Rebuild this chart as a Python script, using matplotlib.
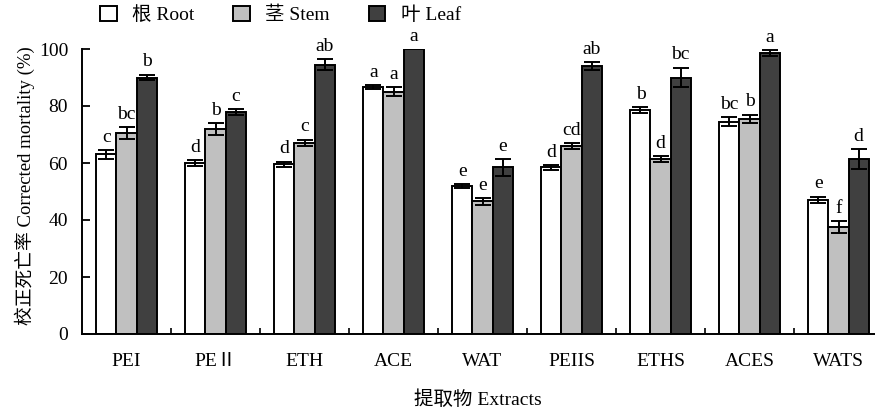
import numpy as np
import matplotlib
matplotlib.use("Agg")
from matplotlib import pyplot as plt
from matplotlib.ticker import FixedLocator

plt.rcParams['font.family'] = ['Liberation Serif', 'Noto Sans CJK SC']

extracts = ["PEI", "PE\u2161", "ETH", "ACE", "WAT", "PEIIS", "ETHS", "ACES", "WATS"]
root = [63, 60, 59.5, 86.5, 52, 58.5, 78.5, 74.5, 47]
stem = [70.5, 72, 67, 85, 46.5, 66, 61.5, 75.5, 37.5]
leaf = [90, 78, 94.5, 100, 58.5, 94, 90, 98.5, 61.5]
root_err = [1.5, 1, 1, 0.7, 0.7, 0.8, 1, 1.5, 1.2]
stem_err = [2, 2, 1.2, 1.5, 1.2, 1, 1, 1.5, 2]
leaf_err = [1, 1, 2, 0, 3, 1.5, 3.5, 1, 3.5]
root_lab = ["c", "d", "d", "a", "e", "d", "b", "bc", "e"]
stem_lab = ["bc", "b", "c", "a", "e", "cd", "d", "b", "f"]
leaf_lab = ["b", "c", "ab", "a", "e", "ab", "bc", "a", "d"]

fig = plt.figure(figsize=(8.75, 4.13), dpi=100)
ax = fig.add_axes([82/875, 1 - 334/413, 801/875, 285/413])

x = np.arange(len(extracts))
w = 0.225
series = [
    (root, root_err, root_lab, "white", "根 Root"),
    (stem, stem_err, stem_lab, "#c0c0c0", "茎 Stem"),
    (leaf, leaf_err, leaf_lab, "#404040", "叶 Leaf"),
]
for i, (vals, errs, labs, col, name) in enumerate(series):
    pos = x + (i - 1) * w
    ax.bar(pos, vals, w, color=col, edgecolor="black", linewidth=1.4, label=name, zorder=2)
    ax.errorbar(pos, vals, yerr=errs, fmt="none", ecolor="black", elinewidth=1.4,
                capsize=5.5, capthick=1.4, zorder=3)
    for p, v, e, t in zip(pos, vals, errs, labs):
        ax.annotate(t, (p, v + e), xytext=(0, 3), textcoords="offset points",
                    ha="center", va="bottom", fontsize=14, annotation_clip=False)

ax.set_xlim(-0.5, len(extracts) - 0.5)
ax.set_ylim(0, 100)
ax.set_yticks(range(0, 101, 20))
ax.set_xticks(x)
ax.set_xticklabels(extracts, fontsize=14)
ax.xaxis.set_minor_locator(FixedLocator(np.arange(0.5, len(extracts) - 0.5, 1)))
ax.tick_params(axis="x", which="major", length=0, pad=14)
ax.tick_params(axis="x", which="minor", direction="in", length=4, width=1.2)
ax.tick_params(axis="y", direction="in", length=6, width=1.3, labelsize=14, pad=10)
for s in ["top", "right"]:
    ax.spines[s].set_visible(False)
for s in ["left", "bottom"]:
    ax.spines[s].set_linewidth(1.4)

fig.text(25/875, 1 - 186/413, "校正死亡率 Corrected mortality (%)", fontsize=13.5,
         rotation=90, ha="center", va="center")
fig.text(478/875, 1 - 400/413, "提取物 Extracts", fontsize=14, ha="center", va="center")

fig.legend(loc="center left", bbox_to_anchor=(100/875, 1 - 15/413), ncol=3, frameon=False,
           fontsize=14, handlelength=0.85, handleheight=0.85, columnspacing=2.0,
           handletextpad=0.8, borderaxespad=0, borderpad=0)

fig.savefig("out.png", dpi=100)
